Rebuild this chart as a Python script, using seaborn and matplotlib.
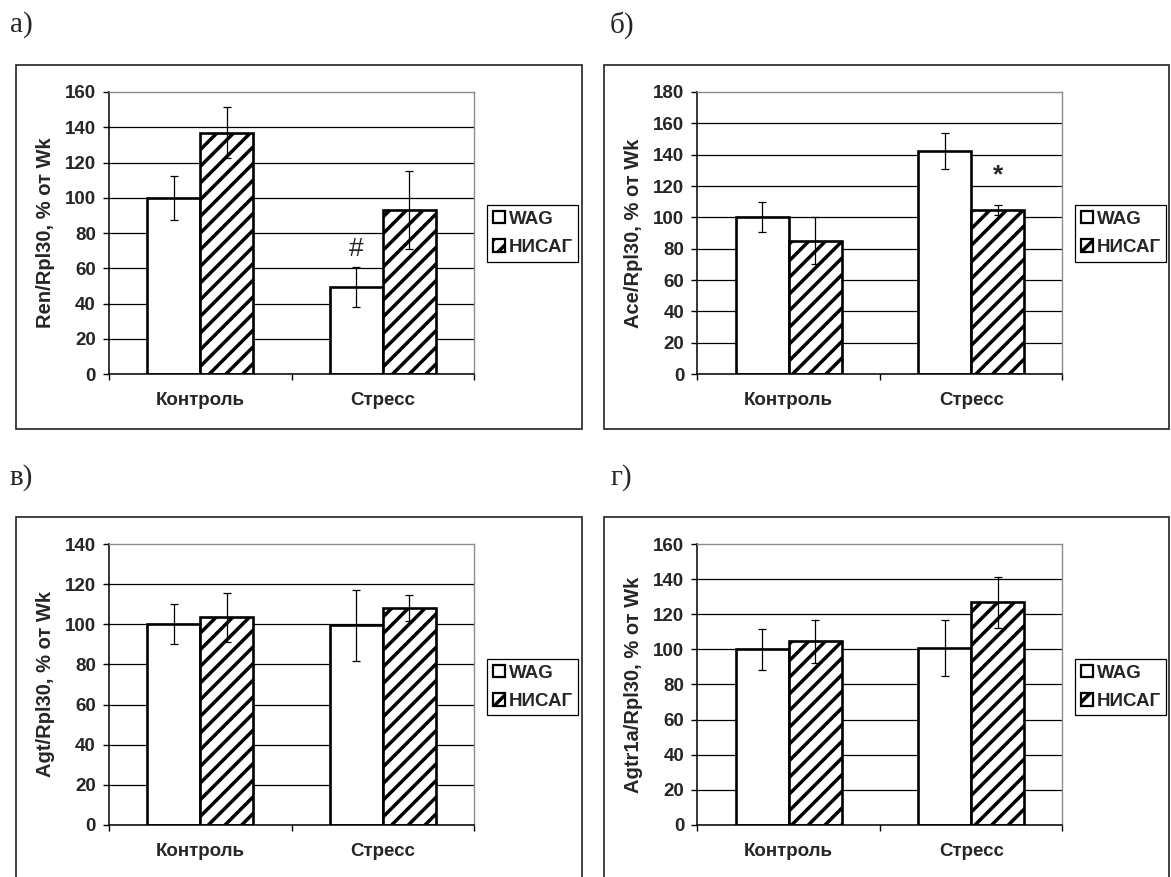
import matplotlib
matplotlib.use('Agg')
import numpy as np
import pandas as pd
import seaborn as sns
import matplotlib.pyplot as plt
from matplotlib.patches import Patch, Rectangle

groups = ['Контроль', 'Стресс']
strains = ['WAG', 'НИСАГ']

# Ren / Rpl30
ren_wag = [100, 49.5]
ren_wag_err = [12.5, 11.3]
ren_nisag = [137, 93]
ren_nisag_err = [14.5, 22]

# Ace / Rpl30
ace_wag = [100, 142.5]
ace_wag_err = [9.5, 11.5]
ace_nisag = [85, 104.7]
ace_nisag_err = [15, 3]

# Agt / Rpl30
agt_wag = [100, 99.5]
agt_wag_err = [10, 17.8]
agt_nisag = [103.4, 108]
agt_nisag_err = [12, 6.6]

# Agtr1a / Rpl30
agtr_wag = [100, 101]
agtr_wag_err = [11.6, 16]
agtr_nisag = [104.5, 126.7]
agtr_nisag_err = [12.2, 14.5]

sns.set_theme(style='white')
plt.rcParams['font.family'] = ['Liberation Sans', 'DejaVu Sans']
plt.rcParams['hatch.linewidth'] = 2.5
plt.rcParams['hatch.color'] = 'black'

FS = 13.5
fig = plt.figure(figsize=(11.71, 8.77), dpi=100)


def draw_panel(pos, box, letter, letter_xy, legend_xy, ylabel, ymax,
               wag, wag_err, nisag, nisag_err, mark=None):
    # frame around the whole panel
    fig.patches.append(Rectangle(box[:2], box[2], box[3], transform=fig.transFigure,
                                 fill=False, edgecolor='#222222', linewidth=1.2, zorder=0))
    fig.text(letter_xy[0], letter_xy[1], letter, family='Liberation Serif',
             fontsize=21, va='center', ha='left')

    ax = fig.add_axes(pos)
    df = pd.DataFrame({'group': groups * 2,
                       'strain': [strains[0]] * 2 + [strains[1]] * 2,
                       'value': wag + nisag})
    sns.barplot(data=df, x='group', y='value', hue='strain', order=groups, hue_order=strains,
                palette=['white', 'white'], saturation=1, edgecolor='black', linewidth=1.9,
                width=0.58, errorbar=None, legend=False, ax=ax)
    for bar in ax.containers[1]:
        bar.set_hatch('//')

    for cont, err in zip(ax.containers, [wag_err, nisag_err]):
        xs = [b.get_x() + b.get_width() / 2 for b in cont]
        ys = [b.get_height() for b in cont]
        ax.errorbar(xs, ys, yerr=err, fmt='none', ecolor='black', elinewidth=0.9,
                    capsize=3.2, capthick=0.9, zorder=5)

    if mark is not None:
        sym, ci, bi, yv, fw = mark
        b = ax.containers[ci][bi]
        ax.text(b.get_x() + b.get_width() / 2, yv, sym, ha='center', va='center',
                fontsize=19, fontweight=fw, zorder=6)

    ax.set_xlim(-0.5, 1.5)
    ax.set_ylim(0, ymax)
    ax.set_yticks(np.arange(0, ymax + 1, 20))
    ax.yaxis.grid(True, color='black', linewidth=0.9)
    ax.set_axisbelow(True)
    ax.get_ygridlines()[-1].set_visible(False)

    ax.set_xticks([-0.5, 0.5, 1.5])
    ax.set_xticklabels(['', '', ''])
    ax.set_xticks([0, 1], minor=True)
    ax.set_xticklabels(groups, minor=True, fontweight='bold', fontsize=13.5)
    ax.tick_params(axis='x', which='major', direction='out', length=4.5, width=1,
                   color='black', bottom=True)
    ax.tick_params(axis='x', which='minor', length=0, pad=13, bottom=True)
    ax.tick_params(axis='y', direction='out', length=4.5, width=1, color='black',
                   left=True, pad=5, labelsize=FS)
    for t in ax.get_yticklabels():
        t.set_fontweight('bold')

    for s in ['top', 'right']:
        ax.spines[s].set_color('#8c8c8c')
        ax.spines[s].set_linewidth(1)
    for s in ['left', 'bottom']:
        ax.spines[s].set_color('black')
        ax.spines[s].set_linewidth(1.1)

    ax.set_xlabel('')
    ax.set_ylabel(ylabel, fontsize=14.5, fontweight='bold', labelpad=7)

    handles = [Patch(facecolor='white', edgecolor='black', linewidth=1.6, label=strains[0]),
               Patch(facecolor='white', edgecolor='black', linewidth=1.6, hatch='//',
                     label=strains[1])]
    leg = fig.legend(handles=handles, loc='upper left', bbox_to_anchor=legend_xy,
                     frameon=True, fancybox=False, edgecolor='black', framealpha=1,
                     handlelength=0.65, handleheight=0.65, handletextpad=0.2,
                     borderpad=0.3, labelspacing=0.6, borderaxespad=0,
                     prop={'weight': 'bold', 'size': FS})
    leg.get_frame().set_linewidth(0.9)
    return ax


top_y, top_h = 0.5735, 0.3216
bot_y, bot_h = 0.0593, 0.3204
left_x, right_x, ax_w = 0.0931, 0.5956, 0.3117

draw_panel([left_x, top_y, ax_w, top_h], (0.01366, 0.5108, 0.4834, 0.4151),
           'а)', (0.0085, 0.9715), (0.4159, 0.7662), 'Ren/Rpl30, % от Wk', 160,
           ren_wag, ren_wag_err, ren_nisag, ren_nisag_err, mark=('#', 0, 1, 71, 'normal'))
draw_panel([right_x, top_y, ax_w, top_h], (0.5158, 0.5108, 0.4825, 0.4151),
           'б)', (0.521, 0.9715), (0.918, 0.7662), 'Ace/Rpl30, % от Wk', 180,
           ace_wag, ace_wag_err, ace_nisag, ace_nisag_err, mark=('*', 1, 1, 127, 'bold'))
draw_panel([left_x, bot_y, ax_w, bot_h], (0.01366, -0.02, 0.4834, 0.4305),
           'в)', (0.0085, 0.455), (0.4159, 0.2486), 'Agt/Rpl30, % от Wk', 140,
           agt_wag, agt_wag_err, agt_nisag, agt_nisag_err)
draw_panel([right_x, bot_y, ax_w, bot_h], (0.5158, -0.02, 0.4825, 0.4305),
           'г)', (0.521, 0.455), (0.918, 0.2486), 'Agtr1a/Rpl30, % от Wk', 160,
           agtr_wag, agtr_wag_err, agtr_nisag, agtr_nisag_err)

fig.savefig('out.png', dpi=100)
